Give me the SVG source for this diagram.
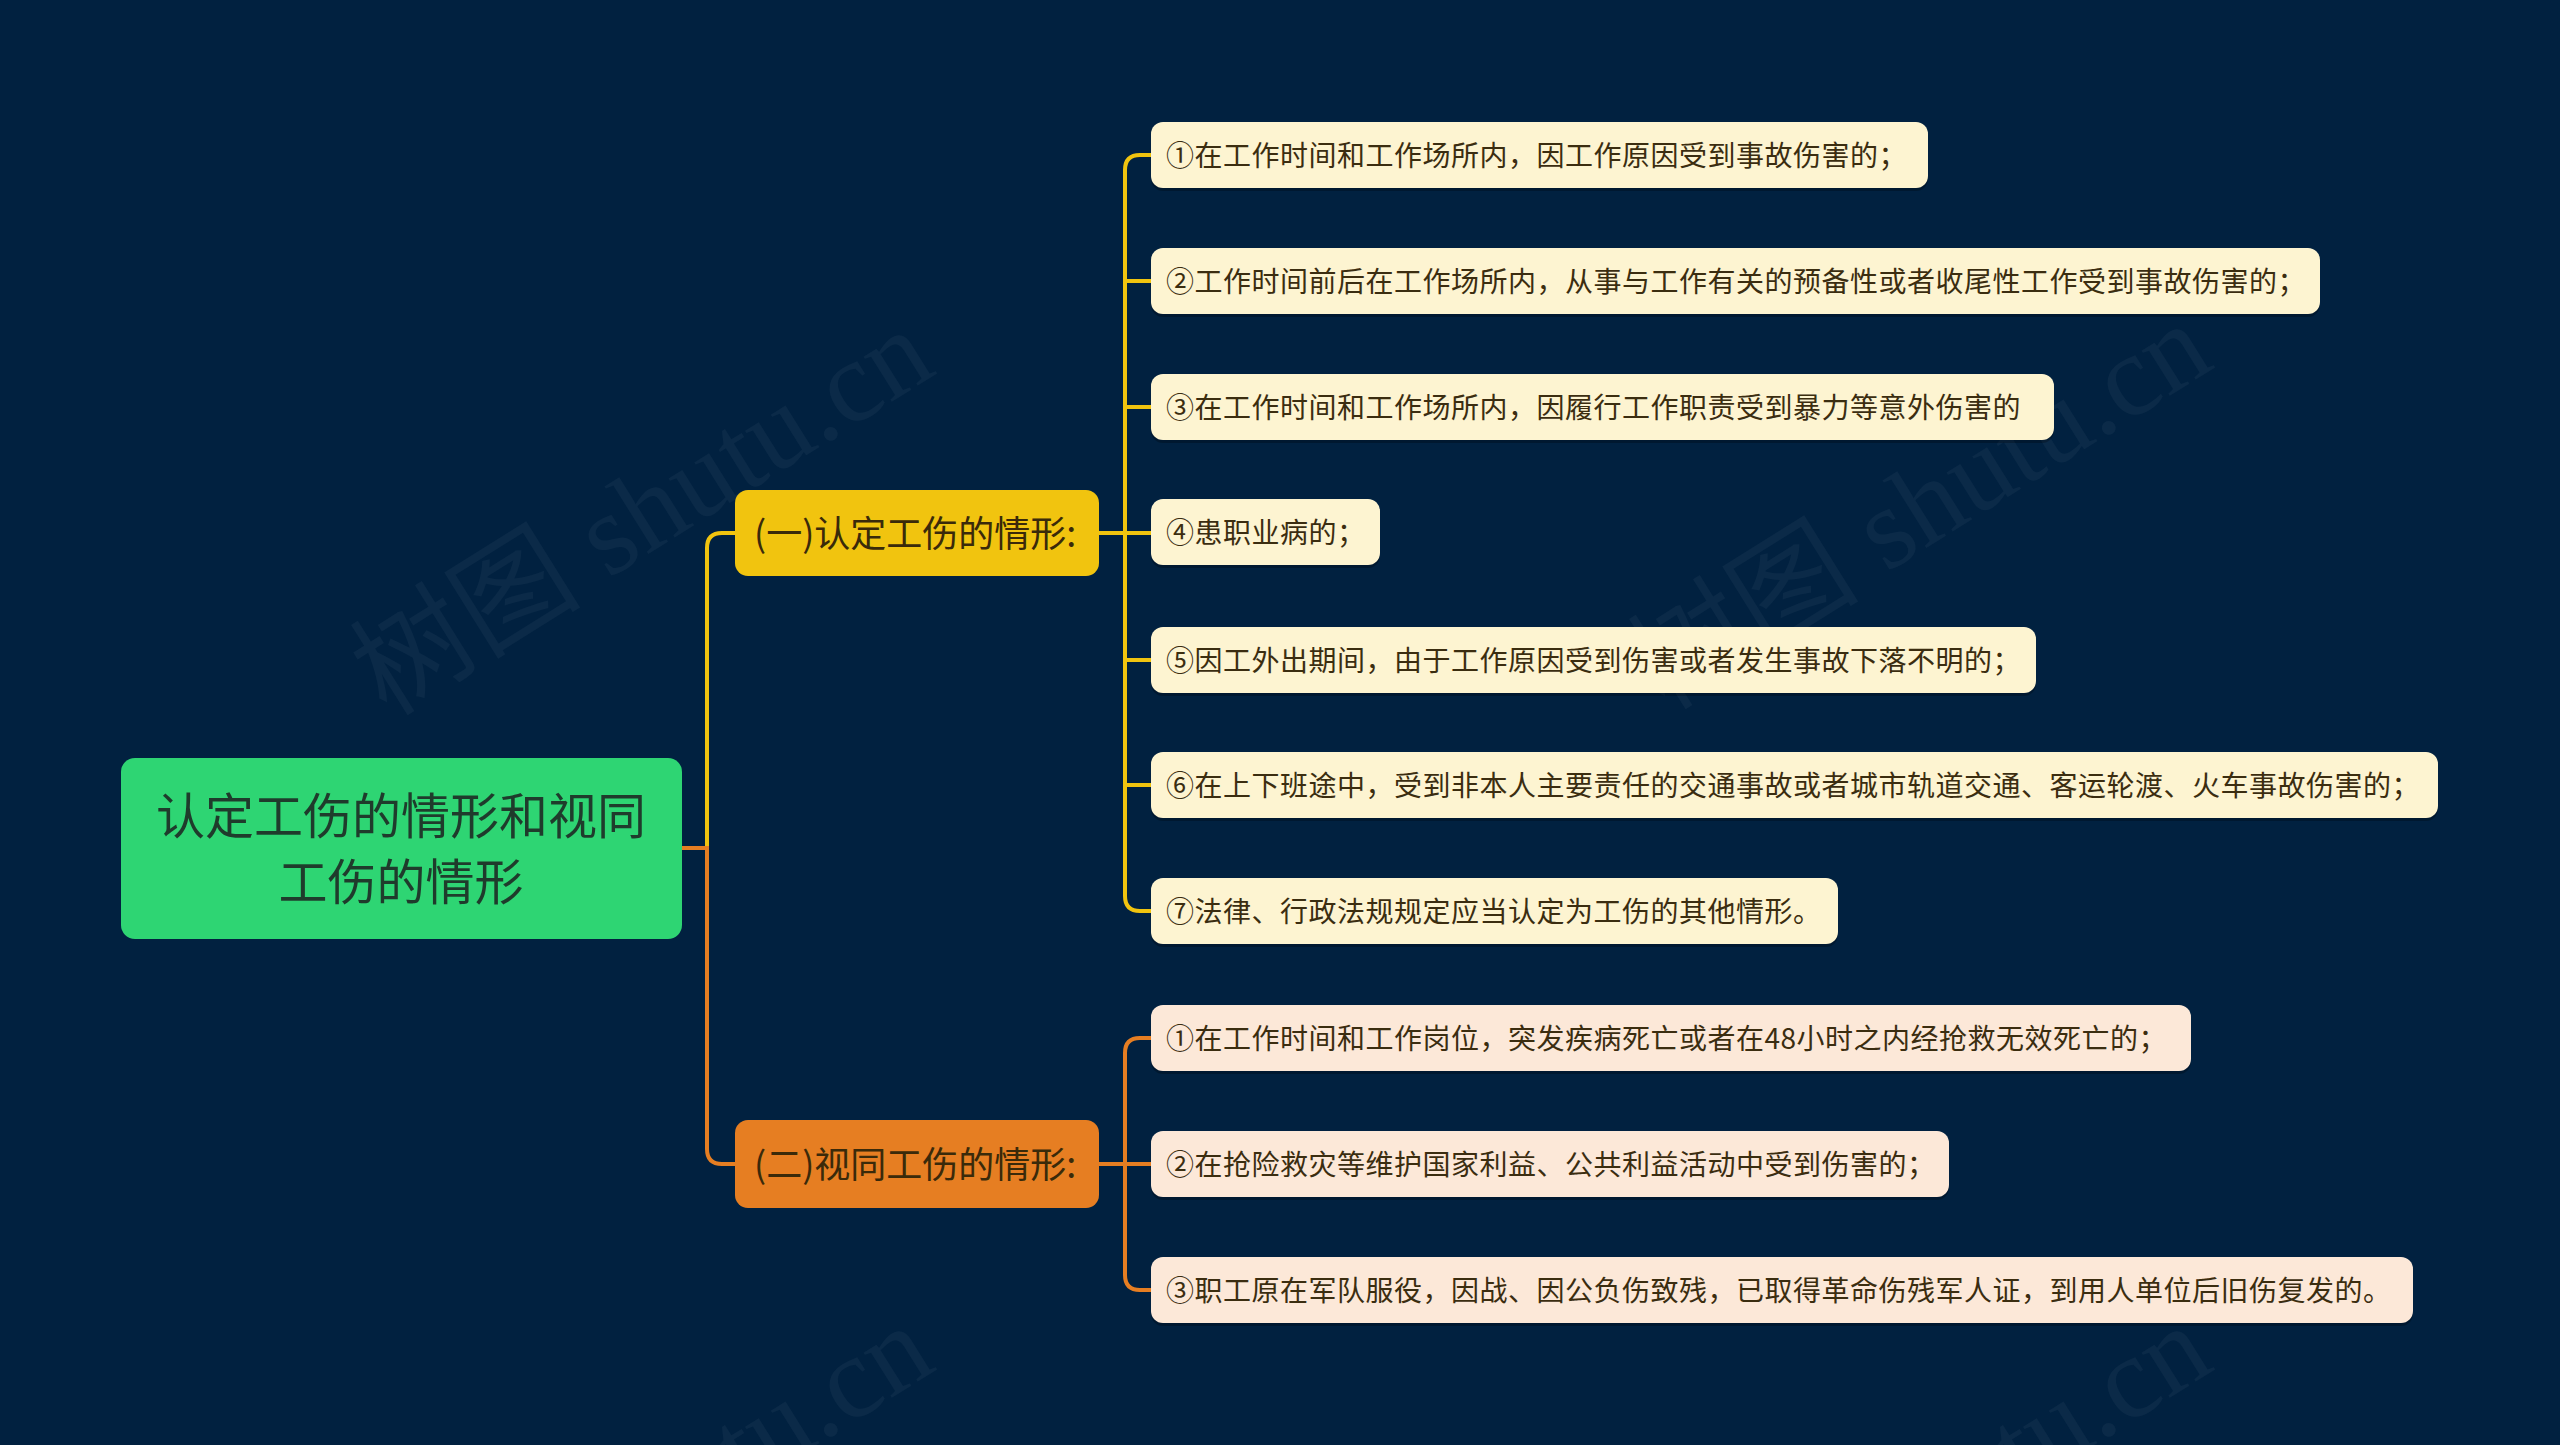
<svg xmlns="http://www.w3.org/2000/svg" width="2560" height="1445" viewBox="0 0 2560 1445">
<style>
.wm{font-family:"Liberation Serif","Noto Sans CJK SC",serif;font-size:116px;fill:#ffffff;fill-opacity:0.045}
.root-t{font-family:"Noto Sans CJK SC","Noto Sans",sans-serif;font-size:49px;fill:#1f3b2c;text-anchor:middle}
.br-t{font-family:"Noto Sans CJK SC","Noto Sans",sans-serif;font-size:36px;fill:#3a2a0a}
.lf-t{font-family:"Noto Sans CJK SC","Noto Sans",sans-serif;font-size:28px;letter-spacing:0.5px;fill:#3b2d10}
.lf1{fill:#fdf4d1}
.lf2{fill:#fce8d8}
.cy{fill:none;stroke:#f1c40f;stroke-width:4;stroke-linecap:round}
.co{fill:none;stroke:#e67e22;stroke-width:4;stroke-linecap:round}
.sh{fill:#000000;fill-opacity:0.25}
</style>
<rect x="0" y="0" width="2560" height="1445" fill="#012140"/>
<g id="watermarks">
<text class="wm" transform="translate(642,512) rotate(-32)" text-anchor="middle" dominant-baseline="central">树图 shutu.cn</text>
<text class="wm" transform="translate(1920,506) rotate(-32)" text-anchor="middle" dominant-baseline="central">树图 shutu.cn</text>
<text class="wm" transform="translate(642,1508) rotate(-32)" text-anchor="middle" dominant-baseline="central">树图 shutu.cn</text>
<text class="wm" transform="translate(1920,1508) rotate(-32)" text-anchor="middle" dominant-baseline="central">树图 shutu.cn</text>
</g>
<g id="connectors">
<path class="cy" d="M682,848 H707 V548 Q707,533 722,533 H735"/>
<path class="co" d="M682,848 H707 V1149 Q707,1164 722,1164 H735"/>
<path class="cy" d="M1099,533 H1125"/>
<path class="cy" d="M1151,155 H1140 Q1125,155 1125,170 V896 Q1125,911 1140,911 H1151"/>
<path class="cy" d="M1125,281 H1151 M1125,407 H1151 M1125,533 H1151 M1125,660 H1151 M1125,785 H1151"/>
<path class="co" d="M1099,1164 H1125"/>
<path class="co" d="M1151,1038 H1140 Q1125,1038 1125,1053 V1275 Q1125,1290 1140,1290 H1151"/>
<path class="co" d="M1125,1164 H1151"/>
</g>
<g id="root">
<rect x="121" y="758" width="561" height="181" rx="14" fill="#2ed573"/>
<text class="root-t" x="401" y="834">认定工伤的情形和视同</text>
<text class="root-t" x="401" y="900">工伤的情形</text>
</g>
<g id="branch1">
<rect x="735" y="490" width="364" height="86" rx="13" fill="#f1c40f"/>
<text class="br-t" x="754" y="547">(一)认定工伤的情形:</text>
</g>
<g id="branch2">
<rect x="735" y="1120" width="364" height="88" rx="13" fill="#e67e22"/>
<text class="br-t" x="754" y="1178">(二)视同工伤的情形:</text>
</g>
<g id="leaf1-1">
<rect class="sh" x="1151" y="125" width="777" height="66" rx="12"/>
<rect class="lf1" x="1151" y="122" width="777" height="66" rx="12"/>
<text class="lf-t" x="1166" y="166">①在工作时间和工作场所内，因工作原因受到事故伤害的；</text>
</g>
<g id="leaf1-2">
<rect class="sh" x="1151" y="251" width="1169" height="66" rx="12"/>
<rect class="lf1" x="1151" y="248" width="1169" height="66" rx="12"/>
<text class="lf-t" x="1166" y="292">②工作时间前后在工作场所内，从事与工作有关的预备性或者收尾性工作受到事故伤害的；</text>
</g>
<g id="leaf1-3">
<rect class="sh" x="1151" y="377" width="903" height="66" rx="12"/>
<rect class="lf1" x="1151" y="374" width="903" height="66" rx="12"/>
<text class="lf-t" x="1166" y="418">③在工作时间和工作场所内，因履行工作职责受到暴力等意外伤害的</text>
</g>
<g id="leaf1-4">
<rect class="sh" x="1151" y="502" width="229" height="66" rx="12"/>
<rect class="lf1" x="1151" y="499" width="229" height="66" rx="12"/>
<text class="lf-t" x="1166" y="543">④患职业病的；</text>
</g>
<g id="leaf1-5">
<rect class="sh" x="1151" y="630" width="885" height="66" rx="12"/>
<rect class="lf1" x="1151" y="627" width="885" height="66" rx="12"/>
<text class="lf-t" x="1166" y="671">⑤因工外出期间，由于工作原因受到伤害或者发生事故下落不明的；</text>
</g>
<g id="leaf1-6">
<rect class="sh" x="1151" y="755" width="1287" height="66" rx="12"/>
<rect class="lf1" x="1151" y="752" width="1287" height="66" rx="12"/>
<text class="lf-t" x="1166" y="796">⑥在上下班途中，受到非本人主要责任的交通事故或者城市轨道交通、客运轮渡、火车事故伤害的；</text>
</g>
<g id="leaf1-7">
<rect class="sh" x="1151" y="881" width="687" height="66" rx="12"/>
<rect class="lf1" x="1151" y="878" width="687" height="66" rx="12"/>
<text class="lf-t" x="1166" y="922">⑦法律、行政法规规定应当认定为工伤的其他情形。</text>
</g>
<g id="leaf2-1">
<rect class="sh" x="1151" y="1008" width="1040" height="66" rx="12"/>
<rect class="lf2" x="1151" y="1005" width="1040" height="66" rx="12"/>
<text class="lf-t" x="1166" y="1049">①在工作时间和工作岗位，突发疾病死亡或者在48小时之内经抢救无效死亡的；</text>
</g>
<g id="leaf2-2">
<rect class="sh" x="1151" y="1134" width="798" height="66" rx="12"/>
<rect class="lf2" x="1151" y="1131" width="798" height="66" rx="12"/>
<text class="lf-t" x="1166" y="1175">②在抢险救灾等维护国家利益、公共利益活动中受到伤害的；</text>
</g>
<g id="leaf2-3">
<rect class="sh" x="1151" y="1260" width="1262" height="66" rx="12"/>
<rect class="lf2" x="1151" y="1257" width="1262" height="66" rx="12"/>
<text class="lf-t" x="1166" y="1301">③职工原在军队服役，因战、因公负伤致残，已取得革命伤残军人证，到用人单位后旧伤复发的。</text>
</g>
</svg>
